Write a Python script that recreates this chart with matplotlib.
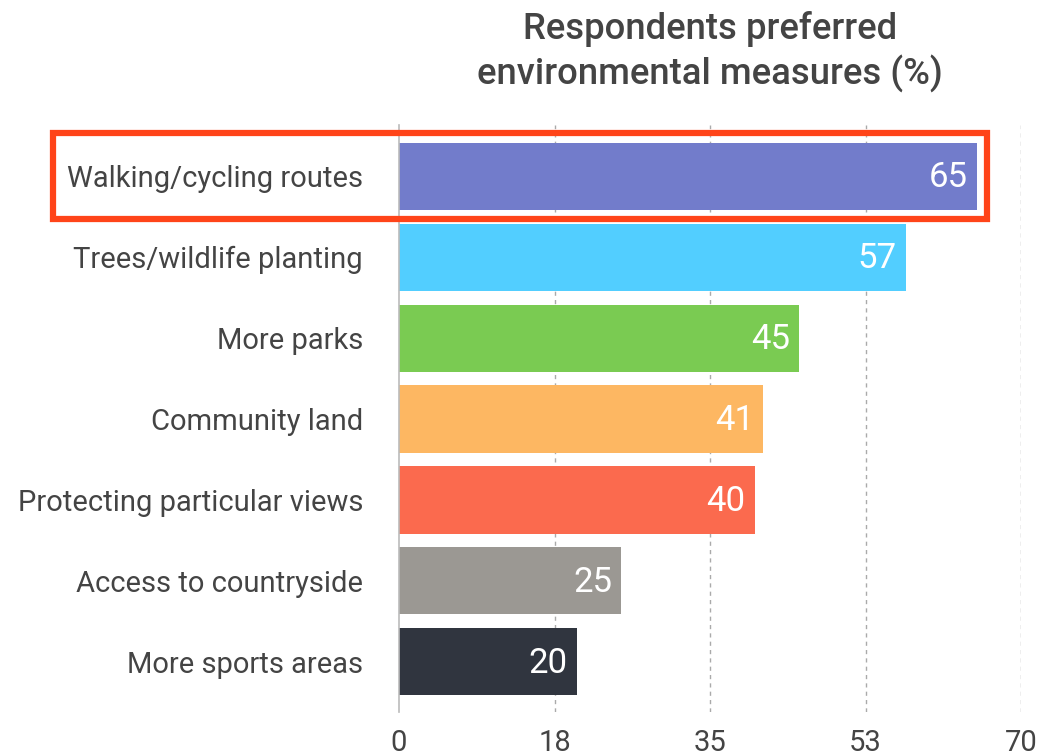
import matplotlib.pyplot as plt
from matplotlib.patches import Rectangle

plt.rcParams['font.family'] = ['Roboto', 'DejaVu Sans']

# data
categories = ['Walking/cycling routes', 'Trees/wildlife planting', 'More parks',
              'Community land', 'Protecting particular views',
              'Access to countryside', 'More sports areas']
values = [65, 57, 45, 41, 40, 25, 20]
colors = ['#727CCB', '#52CEFF', '#7ACB52', '#FDB762', '#FB6A4E', '#9B9893', '#30353F']
tick_pos = [0, 17.5, 35, 52.5, 70]
tick_labels = ['0', '18', '35', '53', '70']

fig = plt.figure(figsize=(10.43, 7.55), dpi=100)
ax = fig.add_axes([0.3826, 0.057, 0.5964, 0.777])

y = list(range(len(categories)))
ax.barh(y, values, height=0.83, color=colors, zorder=2)

for yi, v in zip(y, values):
    ax.text(v - 1.0, yi + 0.02, str(v), ha='right', va='center', color='white',
            fontsize=25, zorder=3)

ax.set_xlim(0, 70)
ax.set_ylim(6.62, -0.63)
ax.set_yticks(y)
ax.set_yticklabels(categories, fontsize=21, color='#444444')
ax.set_xticks(tick_pos)
ax.set_xticklabels(tick_labels, fontsize=21, color='#444444')
ax.tick_params(axis='y', length=0, pad=26)
ax.tick_params(axis='x', length=0, pad=12)

for sp in ['top', 'right', 'bottom']:
    ax.spines[sp].set_visible(False)
ax.spines['left'].set_color('#bbbbbb')
ax.spines['left'].set_linewidth(1.2)
ax.spines['left'].set_zorder(4)

for t in tick_pos[1:]:
    ax.axvline(t, color='#aaaaaa', linestyle=(0, (3, 3)), linewidth=1, zorder=1)

# highlight box around the top item
ax.add_patch(Rectangle((-38.9, -0.53), 105.1, 1.06, fill=False,
                       edgecolor='#FF4419', linewidth=4.5, clip_on=False, zorder=5))

fig.text(0.681, 0.931, 'Respondents preferred\nenvironmental measures (%)',
         ha='center', va='center', fontsize=26.3, fontweight='medium',
         color='#444444', linespacing=1.25)

fig.savefig('out.png', dpi=100)
